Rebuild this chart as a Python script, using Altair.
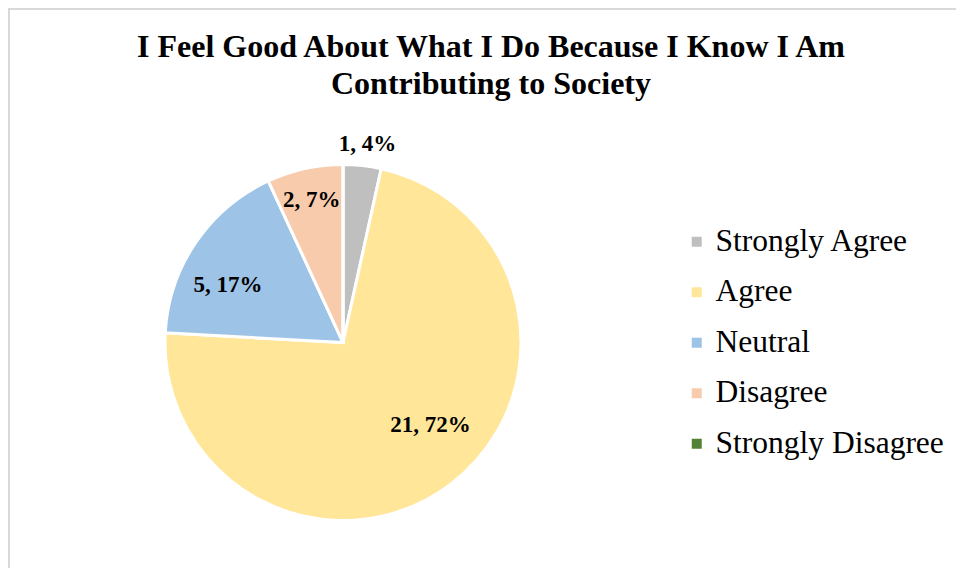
import altair as alt
import pandas as pd

categories = ["Strongly Agree", "Agree", "Neutral", "Disagree", "Strongly Disagree"]
counts = [1, 21, 5, 2, 0]
percents = [4, 72, 17, 7, 0]
colors = ["#BFBFBF", "#FFE699", "#9DC3E6", "#F8CBAD", "#548235"]
title_lines = ["I Feel Good About What I Do Because I Know I Am", "Contributing to Society"]

df = pd.DataFrame({
    "category": categories,
    "count": counts,
    "pct": percents,
    "idx": list(range(len(categories))),
})
df["label"] = [f"{c}, {p}%" for c, p in zip(counts, percents)]

CX, CY = 343 - 8, 342.5 - 8
R = 178
W, H = 948, 560

color_scale = alt.Scale(domain=categories, range=colors)

base = alt.Chart(df)

pie = base.mark_arc(radius=R, stroke="white", strokeWidth=3).encode(
    theta=alt.Theta("count:Q", stack=True),
    order=alt.Order("idx:Q"),
    color=alt.Color(
        "category:N",
        scale=color_scale,
        sort=categories,
        legend=alt.Legend(
            title=None,
            orient="none",
            legendX=673,
            legendY=218,
            symbolType="square",
            symbolSize=100,
            symbolStrokeWidth=0,
            labelFont="Liberation Serif",
            labelFontSize=31.5,
            labelColor="#000000",
            labelOffset=3,
            rowPadding=17.5,
            padding=0,
            labelLimit=400,
        ),
    ),
    x=alt.value(CX),
    y=alt.value(CY),
)

# label placement style per category: radius, dx, dy
label_style = {
    "Strongly Agree": (200, 3, 0),
    "Agree": (120, 15, -13),
    "Neutral": (128, -9, 14),
    "Disagree": (145, 0, -1),
}

text_base = base.transform_joinaggregate(total="sum(count)").transform_window(
    cum="sum(count)", sort=[alt.SortField("idx")], frame=[None, 0]
).transform_calculate(
    ang="(datum.cum - datum.count / 2) / datum.total * 2 * PI"
)

layers = []
border_left = base.mark_rule(color="#D9D9D9", strokeWidth=2).encode(
    x=alt.value(1), y=alt.value(0), y2=alt.value(H)
)
border_top = base.mark_rule(color="#D9D9D9", strokeWidth=2).encode(
    x=alt.value(0), x2=alt.value(W), y=alt.value(1)
)
layers += [border_left, border_top, pie]

for cat, (r, dx, dy) in label_style.items():
    layers.append(
        text_base.transform_filter(alt.datum.category == cat).mark_text(
            radius=r, dx=dx, dy=dy, font="Liberation Serif", fontSize=23,
            fontWeight="bold", color="#000000", align="center", baseline="middle",
        ).encode(
            theta=alt.Theta("ang:Q", scale=None),
            text="label:N",
            x=alt.value(CX),
            y=alt.value(CY),
        )
    )

title_df = pd.DataFrame({"title": ["\n".join(title_lines)]})
title = alt.Chart(title_df).mark_text(
    font="Liberation Serif", fontSize=32, fontWeight="bold", color="#000000",
    align="center", baseline="alphabetic", lineBreak="\n", lineHeight=37,
).encode(
    text="title:N",
    x=alt.value(491 - 8),
    y=alt.value(57 - 8),
)
layers.append(title)

chart = alt.layer(*layers).properties(
    width=W,
    height=H,
    padding=0,
    autosize=alt.AutoSizeParams(type="none"),
).configure_view(stroke=None)

chart.save("out.html", embed_options={"renderer": "svg", "actions": False})
